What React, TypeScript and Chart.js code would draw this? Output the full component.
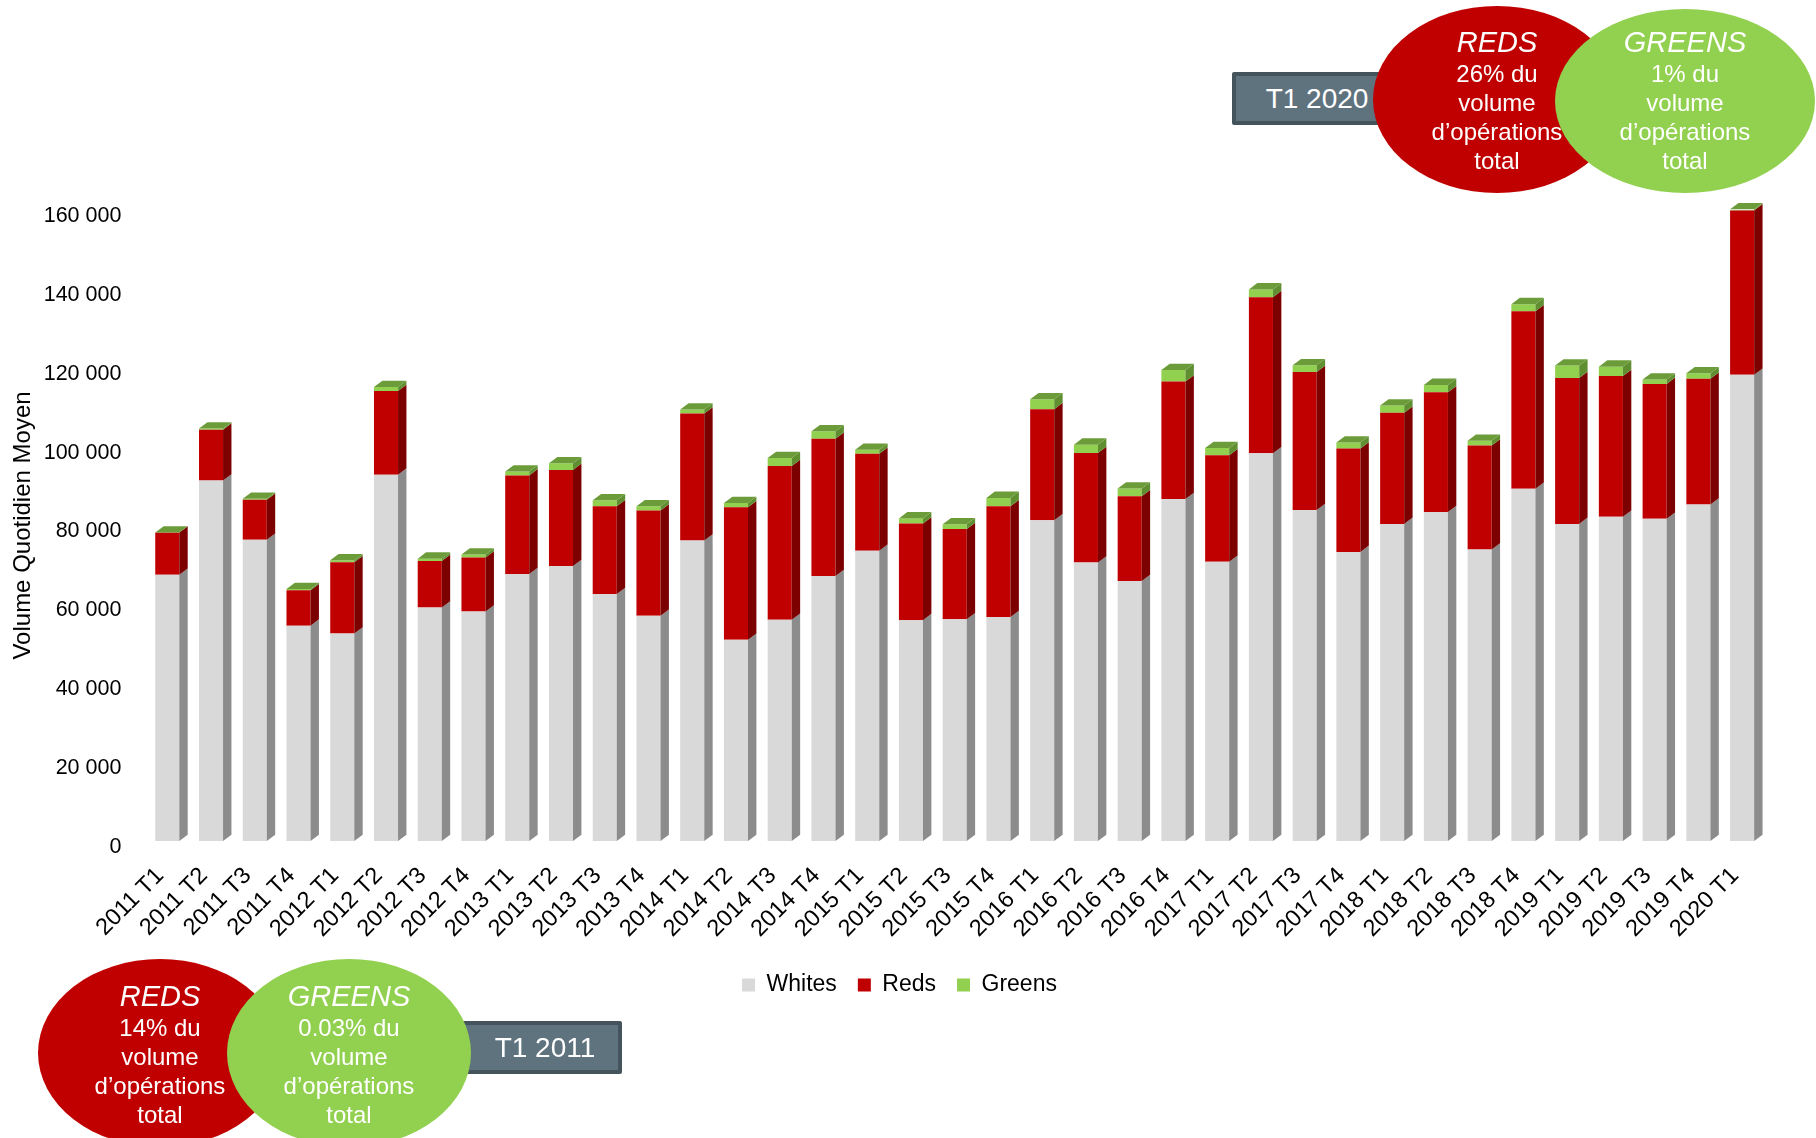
import React, { useEffect, useRef } from 'react';
import { Chart, registerables } from 'chart.js';

Chart.register(...registerables);

const categories = [
  '2011 T1', '2011 T2', '2011 T3', '2011 T4',
  '2012 T1', '2012 T2', '2012 T3', '2012 T4',
  '2013 T1', '2013 T2', '2013 T3', '2013 T4',
  '2014 T1', '2014 T2', '2014 T3', '2014 T4',
  '2015 T1', '2015 T2', '2015 T3', '2015 T4',
  '2016 T1', '2016 T2', '2016 T3', '2016 T4',
  '2017 T1', '2017 T2', '2017 T3', '2017 T4',
  '2018 T1', '2018 T2', '2018 T3', '2018 T4',
  '2019 T1', '2019 T2', '2019 T3', '2019 T4',
  '2020 T1',
];

const whites = [
  67500, 91400, 76400, 54600,
  52600, 92900, 59200, 58200,
  67700, 69700, 62600, 57100,
  76200, 51000, 56100, 67200,
  73600, 56000, 56200, 56800,
  81300, 70600, 65900, 86700,
  70800, 98300, 83900, 73300,
  80400, 83400, 73900, 89300,
  80400, 82200, 81700, 85300,
  118200,
];

const reds = [
  10700, 12900, 10100, 9000,
  18100, 21200, 11800, 13700,
  25000, 24400, 22300, 26700,
  32200, 33600, 39000, 34800,
  24600, 24500, 22900, 28100,
  28200, 27800, 21500, 29800,
  27000, 39600, 35000, 26200,
  28200, 30400, 26400, 45000,
  37000, 35700, 34200, 31900,
  41700,
];

const greens = [
  25, 300, 300, 300,
  500, 1000, 600, 760,
  1000, 1700, 1500, 1100,
  1000, 1100, 2000, 1900,
  1000, 1300, 1200, 2100,
  2500, 2100, 2000, 2900,
  1850, 1970, 1730, 1520,
  1840, 1850, 1190, 1830,
  3150, 2380, 1090, 1420,
  300,
];

const seriesNames = ['Whites', 'Reds', 'Greens'];
const yMax = 160000;
const yStep = 20000;

const FONT = '"Liberation Sans", Arial, Helvetica, sans-serif';
const FRONT = ['#d9d9d9', '#c00000', '#92d050'];
const SIDE = ['#8c8c8c', '#7c0000', '#5f8f31'];
const TOP_FACE = '#6c9c3a';
const DX = 8.4;
const DY = 6.3;

const formatThousands = (v: number) =>
  String(v).replace(/\B(?=(\d{3})+(?!\d))/g, ' ');

const threeDPlugin = {
  id: 'threeD',
  afterDatasetsDraw(chart: any) {
    const ctx = chart.ctx;
    const n = chart.data.datasets.length;
    ctx.save();
    for (let di = 0; di < n; di++) {
      const meta = chart.getDatasetMeta(di);
      meta.data.forEach((bar: any) => {
        const { x, y, base, width } = bar.getProps(['x', 'y', 'base', 'width'], true);
        const l = x - width / 2;
        const r = x + width / 2;
        ctx.fillStyle = SIDE[di];
        ctx.beginPath();
        ctx.moveTo(r, y);
        ctx.lineTo(r + DX, y - DY);
        ctx.lineTo(r + DX, base - DY);
        ctx.lineTo(r, base);
        ctx.closePath();
        ctx.fill();
        if (di === n - 1) {
          ctx.fillStyle = TOP_FACE;
          ctx.beginPath();
          ctx.moveTo(l, y);
          ctx.lineTo(l + DX, y - DY);
          ctx.lineTo(r + DX, y - DY);
          ctx.lineTo(r, y);
          ctx.closePath();
          ctx.fill();
        }
      });
    }
    ctx.restore();
  },
};

const ellipseText = (title: string, lines: string[]) => (
  <div style={{ color: '#fff', textAlign: 'center', fontFamily: FONT }}>
    <div style={{ fontSize: 29, fontStyle: 'italic', lineHeight: '34px' }}>{title}</div>
    {lines.map((t, i) => (
      <div key={i} style={{ fontSize: 24, lineHeight: '29px' }}>{t}</div>
    ))}
  </div>
);

const Ellipse = ({ left, top, w, h, color, title, lines, textTop }: any) => (
  <div
    style={{
      position: 'absolute', left, top, width: w, height: h, borderRadius: '50%',
      background: color,
    }}
  >
    <div style={{ position: 'absolute', left: 0, right: 0, top: textTop }}>
      {ellipseText(title, lines)}
    </div>
  </div>
);

const Tag = ({ left, top, w, h, text, textCenter }: any) => (
  <div
    style={{
      position: 'absolute', left, top, width: w, height: h, boxSizing: 'border-box',
      background: '#5f737f', border: '4px solid #44535c', borderRadius: 2,
    }}
  >
    <div
      style={{
        position: 'absolute', left: textCenter - left - 80, width: 160, top: 0, bottom: 0,
        display: 'flex', alignItems: 'center', justifyContent: 'center',
        color: '#fff', fontFamily: FONT, fontSize: 28,
      }}
    >
      {text}
    </div>
  </div>
);

export default function App() {
  const ref = useRef<HTMLCanvasElement | null>(null);

  useEffect(() => {
    if (!ref.current) return;
    const chart = new Chart(ref.current, {
      type: 'bar',
      data: {
        labels: categories,
        datasets: [whites, reds, greens].map((d, i) => ({
          label: seriesNames[i],
          data: d,
          backgroundColor: FRONT[i],
          borderWidth: 0,
          categoryPercentage: 1,
          barPercentage: 0.55,
        })),
      },
      options: {
        responsive: false,
        animation: false,
        events: [],
        layout: { padding: { left: 35, right: 52, top: 210, bottom: 131.5 } },
        plugins: {
          tooltip: { enabled: false },
          legend: {
            position: 'bottom',
            labels: {
              boxWidth: 13,
              boxHeight: 13,
              padding: 21,
              color: '#000',
              font: { family: FONT, size: 23 },
            },
          },
        },
        scales: {
          x: {
            stacked: true,
            grid: { display: false, drawTicks: false },
            border: { display: false },
            ticks: {
              autoSkip: false,
              minRotation: 45,
              maxRotation: 45,
              padding: 21,
              labelOffset: -7,
              color: '#000',
              font: { family: FONT, size: 23.5 },
            },
            afterFit: (s: any) => { s.height = 111.5; },
          },
          y: {
            stacked: true,
            min: 0,
            max: yMax,
            grid: { display: false, drawTicks: false },
            border: { display: false },
            ticks: {
              stepSize: yStep,
              padding: 24,
              labelOffset: 6,
              color: '#000',
              font: { family: FONT, size: 21.5 },
              callback: (v: any) => formatThousands(Number(v)),
            },
            title: {
              display: true,
              text: 'Volume Quotidien Moyen',
              color: '#000',
              font: { family: FONT, size: 24 },
              padding: { top: -26.4, bottom: 0 },
            },
            afterFit: (s: any) => { s.width = 110.4; },
          },
        },
      },
      plugins: [threeDPlugin],
    } as any);
    return () => chart.destroy();
  }, []);

  return (
    <div
      style={{
        position: 'absolute', left: 0, top: 0, width: 1816, height: 1138,
        overflow: 'hidden', background: '#fff',
      }}
    >
      <canvas
        ref={ref}
        width={1816}
        height={1138}
        style={{ position: 'absolute', left: 0, top: 0, width: 1816, height: 1138 }}
      />
      {/* top annotation: T1 2020 */}
      <Tag left={1232} top={72} w={200} h={53} text="T1 2020" textCenter={1313} />
      <Ellipse left={1373} top={6} w={248} h={187} color="#c00000" textTop={19}
        title="REDS" lines={['26% du', 'volume', 'd’opérations', 'total']} />
      <Ellipse left={1555} top={9} w={260} h={184} color="#92d050" textTop={16}
        title="GREENS" lines={['1% du', 'volume', 'd’opérations', 'total']} />
      {/* bottom annotation: T1 2011 */}
      <Ellipse left={38} top={959} w={244} h={188} color="#c00000" textTop={20}
        title="REDS" lines={['14% du', 'volume', 'd’opérations', 'total']} />
      <Tag left={440} top={1021} w={182} h={53} text="T1 2011" textCenter={541} />
      <Ellipse left={227} top={959} w={244} h={188} color="#92d050" textTop={20}
        title="GREENS" lines={['0.03% du', 'volume', 'd’opérations', 'total']} />
    </div>
  );
}
